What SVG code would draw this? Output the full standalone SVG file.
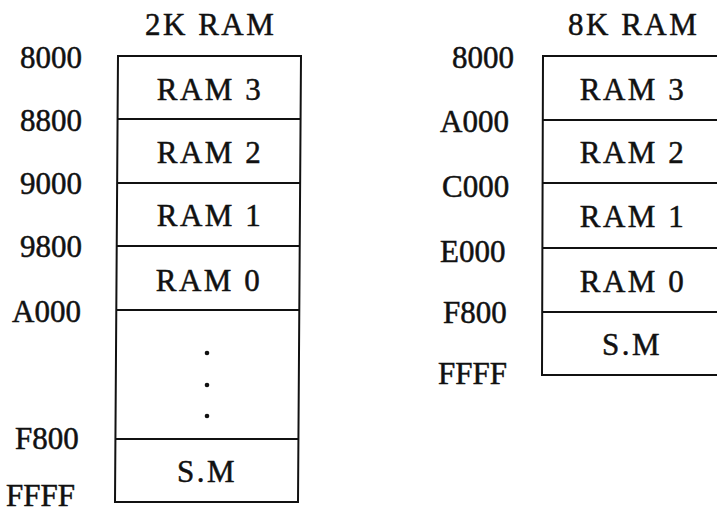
<svg xmlns="http://www.w3.org/2000/svg" width="717" height="513" viewBox="0 0 717 513">
<style>
text{font-family:"Liberation Serif","DejaVu Serif",serif;font-size:31px;fill:#111;stroke:#111;stroke-width:0.5}
.t{letter-spacing:2.5px}
.c{text-anchor:middle;letter-spacing:2.5px}
.ln{stroke:#111;stroke-width:2;fill:none}
</style>
<rect width="717" height="513" fill="#fff"/>
<g id="map2k">
<text class="t" x="145" y="35">2K RAM</text>
<path class="ln" d="M118,56 L301,56 L298,502 L115,502 Z"/>
<g class="ln">
<line x1="118" y1="119" x2="300" y2="119"/>
<line x1="117" y1="183" x2="300" y2="183"/>
<line x1="117" y1="246" x2="300" y2="246"/>
<line x1="117" y1="310" x2="299" y2="310"/>
<line x1="116" y1="439" x2="298" y2="439"/>
</g>
<g id="addr2k">
<text x="20" y="68">8000</text>
<text x="20" y="131">8800</text>
<text x="20" y="194">9000</text>
<text x="20" y="257">9800</text>
<text x="12" y="322">A000</text>
<text x="15" y="449">F800</text>
<text x="6" y="506">FFFF</text>
</g>
<g id="l2k-ram3"><text class="c" x="210" y="100">RAM 3</text></g>
<g id="l2k-ram2"><text class="c" x="210" y="163">RAM 2</text></g>
<g id="l2k-ram1"><text class="c" x="210" y="226">RAM 1</text></g>
<g id="l2k-ram0"><text class="c" x="209" y="291">RAM 0</text></g>
<g id="l2k-dots" fill="#111"><circle cx="207" cy="353" r="2.3"/><circle cx="207" cy="385" r="2.3"/><circle cx="207" cy="416" r="2.3"/></g>
<g id="l2k-sm"><text class="c" x="207" y="482">S.M</text></g>
</g>
<g id="map8k">
<text class="t" x="568" y="35">8K RAM</text>
<path class="ln" d="M730,56 L543,56 L542,375 L730,375"/>
<g class="ln">
<line x1="543" y1="120" x2="720" y2="120"/>
<line x1="543" y1="183" x2="720" y2="183"/>
<line x1="542" y1="248" x2="720" y2="248"/>
<line x1="542" y1="312" x2="720" y2="312"/>
</g>
<g id="addr8k">
<text x="452" y="68">8000</text>
<text x="440" y="132">A000</text>
<text x="442" y="197">C000</text>
<text x="440" y="262">E000</text>
<text x="443" y="323">F800</text>
<text x="438" y="384">FFFF</text>
</g>
<g id="r8k-ram3"><text class="c" x="633" y="100">RAM 3</text></g>
<g id="r8k-ram2"><text class="c" x="633" y="163">RAM 2</text></g>
<g id="r8k-ram1"><text class="c" x="633" y="227">RAM 1</text></g>
<g id="r8k-ram0"><text class="c" x="633" y="292">RAM 0</text></g>
<g id="r8k-sm"><text class="c" x="632" y="355">S.M</text></g>
</g>
</svg>
